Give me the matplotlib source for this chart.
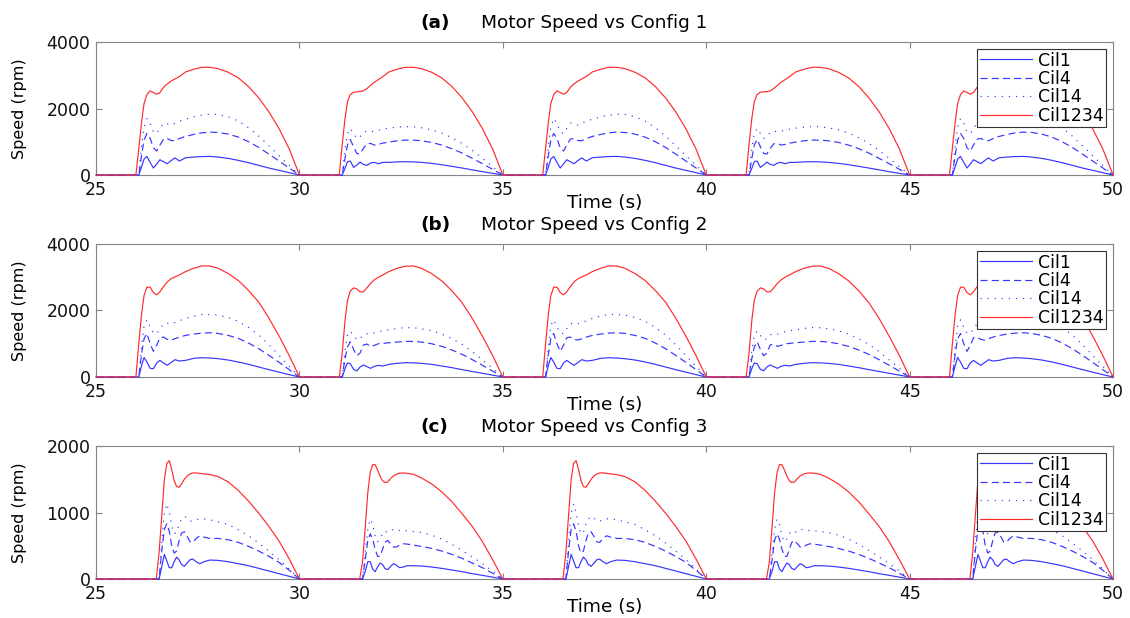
"""
Motor speed for the three configurations, five drive cycles each (25 s to 50 s).
Values read off the reference plot, one profile per cycle type.
"""

import numpy as np
import matplotlib
matplotlib.use('Agg')
import matplotlib.pyplot as plt

# cycle layout: odd cycles (A) and even cycles (B) differ slightly
CYCLE_STARTS = [25, 30, 35, 40, 45]
CYCLE_TYPES = ['A', 'B', 'A', 'B', 'A']

SERIES = ['Cil1', 'Cil4', 'Cil14', 'Cil1234']
XTICKS = [25, 30, 35, 40, 45, 50]

# time offsets inside one cycle (s), configs 1 and 2
T_AB = [0.00, 0.98,
        1.05, 1.12, 1.18, 1.25, 1.33, 1.41, 1.49, 1.57, 1.66, 1.75, 1.84, 1.94, 2.05,
        2.20, 2.40, 2.60, 2.80, 3.00, 3.25, 3.50, 3.75, 4.00, 4.25, 4.50, 4.75, 5.00]

# config 1 (rpm)
A_CIL1_A = [0, 0,
            0, 250, 480, 560, 380, 210, 330, 460, 400, 340, 430, 515, 420,
            520, 540, 555, 560, 540, 500, 440, 370, 290, 210, 140, 70, 0]
A_CIL1_B = [0, 0,
            0, 200, 400, 420, 230, 300, 390, 320, 290, 360, 380, 340, 380,
            380, 395, 400, 395, 380, 350, 310, 260, 210, 155, 100, 50, 0]
A_CIL4_A = [0, 0,
            0, 600, 1050, 1250, 1100, 820, 720, 900, 1080, 1100, 1040, 1030, 1100,
            1160, 1220, 1270, 1290, 1280, 1230, 1140, 1000, 830, 630, 420, 210, 0]
A_CIL4_B = [0, 0,
            0, 500, 900, 1070, 850, 650, 630, 800, 940, 950, 900, 920, 960,
            990, 1030, 1050, 1050, 1030, 980, 900, 790, 660, 500, 340, 170, 0]
A_CIL14_A = [0, 0,
             0, 900, 1450, 1700, 1550, 1300, 1250, 1400, 1560, 1540, 1500, 1560, 1620,
             1680, 1750, 1800, 1830, 1820, 1750, 1620, 1420, 1170, 880, 580, 290, 0]
A_CIL14_B = [0, 0,
             0, 800, 1250, 1400, 1250, 1100, 1150, 1280, 1320, 1300, 1320, 1350, 1380,
             1410, 1440, 1455, 1450, 1420, 1360, 1260, 1120, 950, 740, 500, 250, 0]
A_RED_A = [0, 0,
           800, 1600, 2150, 2420, 2530, 2480, 2430, 2480, 2640, 2740, 2820, 2890, 2960,
           3100, 3180, 3240, 3240, 3200, 3090, 2920, 2660, 2320, 1900, 1390, 780, 0]
A_RED_B = [0, 0,
           900, 1700, 2200, 2420, 2490, 2500, 2510, 2530, 2600, 2700, 2790, 2870, 2960,
           3100, 3180, 3240, 3240, 3200, 3090, 2920, 2660, 2320, 1900, 1390, 780, 0]

# config 2 (rpm)
B_CIL1_A = [0, 0,
            0, 350, 585, 450, 260, 250, 420, 500, 420, 350, 430, 520, 480,
            500, 560, 580, 570, 550, 510, 450, 380, 300, 220, 145, 70, 0]
B_CIL1_B = [0, 0,
            0, 250, 420, 400, 230, 185, 300, 360, 310, 260, 320, 350, 330,
            380, 410, 430, 425, 410, 380, 330, 280, 220, 165, 110, 55, 0]
B_CIL4_A = [0, 0,
            0, 700, 1150, 1310, 1000, 770, 950, 1180, 1200, 1130, 1110, 1150, 1200,
            1250, 1290, 1320, 1330, 1310, 1250, 1160, 1020, 850, 650, 440, 220, 0]
B_CIL4_B = [0, 0,
            0, 550, 900, 1060, 830, 640, 720, 960, 990, 920, 950, 1000, 1010,
            1030, 1050, 1070, 1070, 1050, 1000, 920, 810, 680, 520, 350, 175, 0]
B_CIL14_A = [0, 0,
             0, 900, 1550, 1720, 1500, 1330, 1300, 1450, 1600, 1620, 1600, 1640, 1690,
             1760, 1830, 1880, 1880, 1860, 1790, 1670, 1490, 1260, 970, 650, 320, 0]
B_CIL14_B = [0, 0,
             0, 800, 1250, 1380, 1250, 1120, 1150, 1270, 1300, 1290, 1320, 1360, 1390,
             1420, 1460, 1485, 1480, 1450, 1390, 1290, 1150, 980, 760, 510, 260, 0]
B_RED_A = [0, 0,
           1000, 1900, 2450, 2700, 2700, 2540, 2470, 2560, 2720, 2860, 2950, 3010, 3070,
           3170, 3270, 3340, 3340, 3270, 3110, 2900, 2600, 2250, 1770, 1230, 640, 0]
B_RED_B = [0, 0,
           700, 1700, 2300, 2580, 2680, 2650, 2560, 2560, 2680, 2820, 2920, 3000, 3070,
           3170, 3270, 3330, 3340, 3270, 3110, 2890, 2590, 2230, 1760, 1220, 640, 0]

# time offsets inside one cycle (s), config 3
T_C = [0.00, 1.48,
       1.55, 1.62, 1.68, 1.74, 1.80, 1.86, 1.92, 1.98, 2.04, 2.10, 2.17, 2.24, 2.31,
       2.38, 2.46, 2.55, 2.65,
       2.80, 3.00, 3.25, 3.50, 3.75, 4.00, 4.25, 4.50, 4.75, 5.00]

# config 3 (rpm)
C_CIL1_A = [0, 0,
            0, 200, 370, 270, 170, 170, 260, 330, 290, 220, 190, 240, 290, 300, 260, 230, 260,
            285, 280, 260, 230, 200, 160, 120, 80, 40, 0]
C_CIL1_B = [0, 0,
            0, 120, 260, 260, 150, 110, 180, 240, 220, 160, 140, 190, 230, 210, 170, 180, 200,
            200, 195, 180, 160, 135, 110, 80, 55, 28, 0]
C_CIL4_A = [0, 0,
            0, 450, 750, 830, 720, 500, 390, 420, 570, 690, 710, 640, 560, 550, 610, 650, 630,
            610, 610, 590, 550, 490, 420, 340, 250, 130, 0]
C_CIL4_B = [0, 0,
            0, 300, 580, 680, 600, 450, 340, 340, 440, 550, 580, 530, 480, 480, 510, 530, 525,
            510, 490, 460, 420, 370, 310, 240, 170, 85, 0]
C_CIL14_A = [0, 0,
             0, 600, 1000, 1130, 1000, 800, 680, 700, 820, 900, 940, 920, 870, 870, 890, 905, 905,
             890, 860, 820, 740, 650, 540, 420, 290, 150, 0]
C_CIL14_B = [0, 0,
             0, 400, 750, 900, 820, 650, 560, 600, 680, 720, 700, 720, 750, 740, 730, 730, 725,
             715, 700, 660, 600, 520, 430, 330, 230, 120, 0]
C_RED_A = [0, 0,
           400, 1000, 1500, 1740, 1780, 1650, 1480, 1390, 1380, 1430, 1500, 1550, 1580, 1595, 1595, 1590, 1580,
           1570, 1540, 1460, 1330, 1170, 990, 790, 570, 300, 0]
C_RED_B = [0, 0,
           250, 800, 1300, 1600, 1720, 1720, 1640, 1550, 1480, 1450, 1460, 1510, 1550, 1575, 1590, 1595, 1590,
           1575, 1520, 1430, 1310, 1160, 980, 790, 560, 290, 0]

PANELS = [
    ('(a)', 'Motor Speed vs Config 1', T_AB, 4000, [0, 2000, 4000],
     {'Cil1': (A_CIL1_A, A_CIL1_B), 'Cil4': (A_CIL4_A, A_CIL4_B),
      'Cil14': (A_CIL14_A, A_CIL14_B), 'Cil1234': (A_RED_A, A_RED_B)}),
    ('(b)', 'Motor Speed vs Config 2', T_AB, 4000, [0, 2000, 4000],
     {'Cil1': (B_CIL1_A, B_CIL1_B), 'Cil4': (B_CIL4_A, B_CIL4_B),
      'Cil14': (B_CIL14_A, B_CIL14_B), 'Cil1234': (B_RED_A, B_RED_B)}),
    ('(c)', 'Motor Speed vs Config 3', T_C, 2000, [0, 1000, 2000],
     {'Cil1': (C_CIL1_A, C_CIL1_B), 'Cil4': (C_CIL4_A, C_CIL4_B),
      'Cil14': (C_CIL14_A, C_CIL14_B), 'Cil1234': (C_RED_A, C_RED_B)}),
]

BLUE = '#3535ff'
RED = '#ff2a2a'
STYLES = {
    'Cil1': dict(color=BLUE, linestyle='-'),
    'Cil4': dict(color=BLUE, linestyle=(0, (6, 3.5))),
    'Cil14': dict(color=BLUE, linestyle=(0, (1, 5))),
    'Cil1234': dict(color=RED, linestyle='-'),
}


def join_cycles(t_grid, profile_a, profile_b):
    """Chain the per-cycle profiles into one time series."""
    ts, vs = [], []
    for start, kind in zip(CYCLE_STARTS, CYCLE_TYPES):
        prof = profile_a if kind == 'A' else profile_b
        ts.append(start + np.asarray(t_grid, dtype=float))
        vs.append(np.asarray(prof, dtype=float))
    return np.concatenate(ts), np.concatenate(vs)


fig = plt.figure(figsize=(11.3, 6.18), dpi=100)
bottoms = [0.7168, 0.3900, 0.0631]
GRAY = '#858585'

for (tag, title, t_grid, ymax, yticks, data), bottom in zip(PANELS, bottoms):
    ax = fig.add_axes([0.085, bottom, 0.900, 0.2152])

    for name in SERIES:
        t, v = join_cycles(t_grid, *data[name])
        ax.plot(t, v, label=name, linewidth=0.85, clip_on=False, zorder=3,
                **STYLES[name])

    ax.set_xlim(25, 50)
    ax.set_ylim(0, ymax)
    ax.set_xticks(XTICKS)
    ax.set_yticks(yticks)
    ax.tick_params(direction='in', length=4, top=True, right=True,
                   color=GRAY, labelcolor='#111111', labelsize=12.5, pad=4)
    for sp in ax.spines.values():
        sp.set_color(GRAY)
        sp.set_linewidth(0.8)

    ax.set_xlabel('Time (s)', fontsize=13.3)
    ax.xaxis.set_label_coords(0.5, -0.145)
    ax.set_ylabel('Speed (rpm)', fontsize=11.5)
    ax.yaxis.set_label_coords(-0.068, 0.5)

    ax.text(0.3186, 1.143, tag, transform=ax.transAxes, fontsize=13.3,
            fontweight='bold', va='center', ha='left')
    ax.text(0.3786, 1.143, title, transform=ax.transAxes, fontsize=13.3,
            va='center', ha='left')

    leg = ax.legend(loc='upper right', fontsize=12.5, fancybox=False,
                    framealpha=1, edgecolor='#333333', handlelength=3.0,
                    handletextpad=0.35, labelspacing=0.02, borderpad=0.15,
                    borderaxespad=0.4)
    leg.get_frame().set_linewidth(0.8)

fig.savefig('out.png', dpi=100)
